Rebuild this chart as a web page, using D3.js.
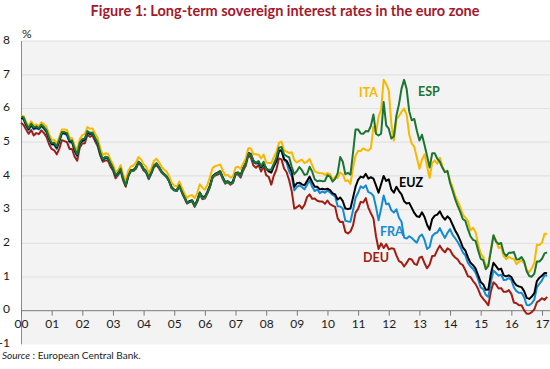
<!DOCTYPE html>
<html>
<head>
<meta charset="utf-8">
<script src="https://cdn.jsdelivr.net/npm/d3@7/dist/d3.min.js"></script>
<style>
  body { margin: 0; background: #fff; }
  svg { display: block; font-family: Lato, "Open Sans", sans-serif; }
</style>
</head>
<body>
<svg id="chart"></svg>
<script>
// monthly 10y yields, Jan 2000 .. Mar 2017
const DEU = [
  5.58, 5.51, 5.38, 5.25, 5.36, 5.20, 5.27, 5.24, 5.35, 5.27, 5.16, 4.94,
  4.80, 4.76, 4.64, 4.81, 5.06, 5.03, 5.00, 4.80, 4.80, 4.57, 4.45, 4.84,
  4.96, 4.97, 5.22, 5.16, 5.20, 5.03, 4.89, 4.61, 4.42, 4.46, 4.46, 4.28,
  4.16, 3.93, 4.02, 4.15, 3.87, 3.68, 3.98, 4.14, 4.15, 4.21, 4.39, 4.31,
  4.16, 4.10, 3.90, 4.06, 4.25, 4.32, 4.23, 4.10, 4.03, 3.96, 3.84, 3.64,
  3.57, 3.55, 3.69, 3.50, 3.34, 3.18, 3.22, 3.24, 3.08, 3.23, 3.46, 3.31,
  3.33, 3.48, 3.67, 3.94, 4.01, 4.04, 4.08, 3.91, 3.77, 3.81, 3.74, 3.79,
  4.04, 4.04, 3.95, 4.16, 4.30, 4.61, 4.55, 4.31, 4.24, 4.33, 4.13, 4.29,
  4.02, 3.97, 3.74, 4.01, 4.19, 4.52, 4.49, 4.22, 4.11, 3.87, 3.55, 3.03,
  3.07, 3.13, 3.03, 3.14, 3.37, 3.45, 3.32, 3.33, 3.26, 3.24, 3.24, 3.17,
  3.27, 3.16, 3.12, 3.08, 2.74, 2.63, 2.64, 2.34, 2.29, 2.35, 2.53, 2.91,
  3.02, 3.23, 3.21, 3.34, 3.06, 2.89, 2.74, 2.21, 1.83, 2.00, 1.86, 1.98,
  1.82, 1.85, 1.84, 1.64, 1.47, 1.43, 1.31, 1.42, 1.54, 1.52, 1.39, 1.36,
  1.57, 1.60, 1.41, 1.26, 1.37, 1.62, 1.63, 1.80, 1.93, 1.81, 1.73, 1.85,
  1.80, 1.66, 1.58, 1.52, 1.40, 1.35, 1.20, 1.02, 1.00, 0.88, 0.79, 0.64,
  0.45, 0.35, 0.26, 0.16, 0.58, 0.84, 0.78, 0.66, 0.67, 0.56, 0.56, 0.61,
  0.50, 0.24, 0.22, 0.16, 0.16, 0.01, -0.09, -0.09, -0.04, 0.04, 0.25, 0.30,
  0.37, 0.32, 0.41
];
const FRA = [
  5.70, 5.68, 5.49, 5.36, 5.50, 5.38, 5.41, 5.38, 5.47, 5.40, 5.29, 5.07,
  4.93, 4.92, 4.80, 5.01, 5.25, 5.25, 5.21, 4.99, 4.99, 4.73, 4.58, 4.93,
  5.02, 5.05, 5.28, 5.23, 5.25, 5.09, 4.94, 4.65, 4.46, 4.53, 4.52, 4.36,
  4.20, 3.99, 4.05, 4.19, 3.90, 3.72, 4.01, 4.16, 4.17, 4.24, 4.40, 4.33,
  4.19, 4.11, 3.92, 4.07, 4.28, 4.35, 4.25, 4.12, 4.04, 3.97, 3.84, 3.65,
  3.57, 3.55, 3.71, 3.53, 3.36, 3.19, 3.23, 3.26, 3.10, 3.25, 3.48, 3.35,
  3.35, 3.51, 3.69, 3.96, 4.03, 4.08, 4.11, 3.93, 3.79, 3.82, 3.76, 3.81,
  4.07, 4.08, 3.99, 4.22, 4.35, 4.66, 4.63, 4.41, 4.36, 4.40, 4.23, 4.35,
  4.22, 4.13, 4.11, 4.28, 4.42, 4.72, 4.75, 4.47, 4.40, 4.13, 3.99, 3.57,
  3.67, 3.72, 3.67, 3.60, 3.74, 3.87, 3.68, 3.55, 3.60, 3.49, 3.54, 3.50,
  3.57, 3.51, 3.44, 3.39, 3.10, 3.09, 3.03, 2.67, 2.65, 2.64, 2.98, 3.35,
  3.50, 3.69, 3.64, 3.72, 3.52, 3.49, 3.41, 3.08, 2.68, 3.03, 3.42, 3.16,
  3.18, 2.98, 2.91, 3.01, 2.76, 2.64, 2.17, 2.14, 2.21, 2.16, 2.08, 2.02,
  2.20, 2.26, 2.10, 1.83, 1.89, 2.21, 2.29, 2.32, 2.45, 2.29, 2.16, 2.31,
  2.42, 2.25, 2.15, 2.04, 1.90, 1.73, 1.64, 1.42, 1.31, 1.24, 1.13, 0.93,
  0.69, 0.64, 0.47, 0.41, 0.85, 1.19, 1.12, 1.04, 1.07, 0.91, 0.92, 0.97,
  0.91, 0.69, 0.58, 0.53, 0.53, 0.40, 0.17, 0.16, 0.22, 0.33, 0.69, 0.80,
  0.90, 1.05, 1.04
];
const EUZ = [
  5.72, 5.71, 5.52, 5.39, 5.52, 5.41, 5.44, 5.40, 5.50, 5.42, 5.32, 5.10,
  4.95, 4.95, 4.84, 5.04, 5.28, 5.27, 5.24, 5.02, 5.02, 4.76, 4.61, 4.96,
  5.05, 5.08, 5.30, 5.25, 5.27, 5.11, 4.96, 4.67, 4.48, 4.55, 4.54, 4.38,
  4.22, 4.01, 4.07, 4.21, 3.92, 3.72, 4.01, 4.17, 4.17, 4.25, 4.42, 4.35,
  4.21, 4.13, 3.94, 4.10, 4.30, 4.37, 4.27, 4.14, 4.06, 3.99, 3.86, 3.66,
  3.59, 3.57, 3.73, 3.55, 3.38, 3.21, 3.25, 3.28, 3.13, 3.27, 3.51, 3.38,
  3.38, 3.53, 3.72, 3.99, 4.06, 4.10, 4.14, 3.96, 3.81, 3.84, 3.78, 3.83,
  4.09, 4.10, 4.02, 4.24, 4.38, 4.68, 4.65, 4.44, 4.38, 4.42, 4.26, 4.37,
  4.22, 4.14, 4.10, 4.30, 4.45, 4.75, 4.76, 4.50, 4.45, 4.30, 4.12, 3.68,
  3.78, 3.80, 3.75, 3.72, 3.85, 3.98, 3.82, 3.68, 3.68, 3.60, 3.62, 3.60,
  3.62, 3.58, 3.48, 3.45, 3.30, 3.36, 3.25, 3.03, 3.02, 3.03, 3.35, 3.68,
  3.88, 3.98, 3.95, 4.06, 3.92, 3.96, 3.92, 3.72, 3.50, 3.75, 4.00, 3.85,
  3.90, 3.60, 3.50, 3.68, 3.55, 3.45, 3.25, 3.18, 3.20, 3.05, 2.90, 2.80,
  2.78, 2.92, 2.78, 2.55, 2.40, 2.72, 2.82, 2.85, 2.95, 2.80, 2.70, 2.80,
  2.72, 2.55, 2.38, 2.25, 2.08, 1.88, 1.78, 1.58, 1.42, 1.35, 1.25, 1.05,
  0.85, 0.78, 0.62, 0.63, 1.10, 1.42, 1.32, 1.22, 1.25, 1.05, 1.02, 1.05,
  1.00, 0.85, 0.75, 0.72, 0.70, 0.58, 0.38, 0.35, 0.42, 0.52, 0.88, 0.98,
  1.04, 1.12, 1.11
];
const ITA = [
  5.77, 5.78, 5.60, 5.48, 5.62, 5.50, 5.53, 5.48, 5.59, 5.53, 5.45, 5.24,
  5.08, 5.07, 4.96, 5.15, 5.38, 5.38, 5.36, 5.14, 5.12, 4.90, 4.76, 5.09,
  5.21, 5.24, 5.45, 5.40, 5.41, 5.26, 5.13, 4.83, 4.62, 4.67, 4.66, 4.49,
  4.34, 4.13, 4.17, 4.32, 4.03, 3.84, 4.15, 4.28, 4.31, 4.39, 4.56, 4.49,
  4.35, 4.27, 4.09, 4.23, 4.44, 4.51, 4.41, 4.27, 4.19, 4.13, 3.99, 3.80,
  3.71, 3.68, 3.83, 3.65, 3.48, 3.35, 3.41, 3.43, 3.34, 3.49, 3.75, 3.65,
  3.59, 3.74, 3.97, 4.23, 4.29, 4.31, 4.34, 4.16, 4.01, 4.03, 3.95, 3.99,
  4.25, 4.27, 4.21, 4.37, 4.51, 4.82, 4.82, 4.64, 4.64, 4.63, 4.52, 4.63,
  4.40, 4.38, 4.38, 4.56, 4.70, 4.98, 5.02, 4.76, 4.72, 4.68, 4.70, 4.47,
  4.40, 4.45, 4.48, 4.38, 4.42, 4.50, 4.32, 4.14, 4.10, 4.08, 4.08, 4.03,
  4.08, 4.05, 3.90, 3.96, 3.94, 4.10, 4.05, 3.85, 3.87, 3.76, 4.24, 4.60,
  4.74, 4.74, 4.82, 4.77, 4.75, 4.82, 5.46, 5.27, 5.75, 5.97, 6.85, 6.72,
  6.54, 5.55, 5.05, 5.68, 5.78, 5.90, 6.00, 5.82, 5.23, 4.96, 4.86, 4.54,
  4.21, 4.48, 4.64, 4.28, 3.94, 4.38, 4.46, 4.36, 4.54, 4.29, 4.12, 4.10,
  3.86, 3.66, 3.41, 3.25, 3.07, 2.85, 2.76, 2.66, 2.38, 2.46, 2.33, 1.97,
  1.70, 1.59, 1.32, 1.38, 1.83, 2.22, 2.09, 1.86, 1.89, 1.62, 1.53, 1.60,
  1.55, 1.54, 1.38, 1.45, 1.49, 1.41, 1.21, 1.14, 1.26, 1.42, 1.96, 1.95,
  2.02, 2.28, 2.28
];
const ESP = [
  5.75, 5.74, 5.55, 5.42, 5.55, 5.44, 5.47, 5.42, 5.52, 5.45, 5.35, 5.13,
  4.98, 4.98, 4.88, 5.08, 5.30, 5.30, 5.27, 5.06, 5.05, 4.80, 4.64, 4.98,
  5.09, 5.11, 5.33, 5.28, 5.29, 5.13, 4.99, 4.70, 4.50, 4.57, 4.55, 4.39,
  4.24, 4.03, 4.09, 4.22, 3.93, 3.72, 4.01, 4.16, 4.15, 4.24, 4.41, 4.34,
  4.22, 4.13, 3.94, 4.10, 4.30, 4.37, 4.27, 4.13, 4.06, 3.98, 3.84, 3.64,
  3.58, 3.56, 3.72, 3.53, 3.37, 3.21, 3.23, 3.26, 3.11, 3.26, 3.50, 3.36,
  3.37, 3.51, 3.69, 3.97, 4.04, 4.09, 4.12, 3.94, 3.79, 3.83, 3.76, 3.81,
  4.08, 4.09, 4.00, 4.22, 4.37, 4.66, 4.63, 4.46, 4.38, 4.44, 4.29, 4.42,
  4.21, 4.18, 4.19, 4.36, 4.54, 4.84, 4.86, 4.64, 4.59, 4.55, 4.27, 4.05,
  4.14, 4.26, 4.17, 4.03, 4.05, 4.27, 4.13, 3.90, 3.84, 3.86, 3.84, 3.85,
  4.02, 3.98, 3.83, 3.91, 4.08, 4.56, 4.42, 4.05, 4.09, 4.04, 4.68, 5.38,
  5.38, 5.26, 5.25, 5.33, 5.32, 5.48, 5.82, 5.25, 5.20, 5.25, 6.19, 5.50,
  5.40, 5.11, 5.17, 5.79, 6.13, 6.59, 6.85, 6.58, 5.92, 5.65, 5.69, 5.34,
  5.05, 5.22, 4.92, 4.59, 4.25, 4.67, 4.67, 4.51, 4.42, 4.24, 4.11, 4.15,
  3.79, 3.56, 3.31, 3.11, 2.93, 2.72, 2.66, 2.42, 2.21, 2.10, 2.07, 1.79,
  1.54, 1.50, 1.23, 1.33, 1.78, 2.24, 2.05, 1.98, 2.01, 1.72, 1.62, 1.72,
  1.72, 1.74, 1.52, 1.53, 1.59, 1.47, 1.17, 1.03, 1.01, 1.10, 1.46, 1.46,
  1.54, 1.70, 1.73
];

const years = d3.range(2000, 2018);
const yTicks = [-1, 0, 1, 2, 3, 4, 5, 6, 7, 8];

// drawing order + label placement
const series = [
  { name: 'DEU', values: DEU, color: '#a11d12', lx: 363, ly: 262 },
  { name: 'FRA', values: FRA, color: '#148ad3', lx: 380, ly: 236 },
  { name: 'EUZ', values: EUZ, color: '#000000', lx: 399, ly: 187 },
  { name: 'ITA', values: ITA, color: '#f7b900', lx: 359, ly: 97 },
  { name: 'ESP', values: ESP, color: '#1b7430', lx: 418, ly: 96 }
];

const width = 550, height = 369;
const marginLeft = 21, plotRight = 550;

const svg = d3.select('#chart')
  .attr('width', width)
  .attr('height', height)
  .attr('viewBox', [0, 0, width, height]);

const x = d3.scaleLinear().domain([2000, 2017]).range([marginLeft, 542]);
const y = d3.scaleLinear().domain([-1, 8]).range([344.4, 41.1]);

// title
svg.append('text')
  .attr('x', 285).attr('y', 16)
  .attr('text-anchor', 'middle')
  .style('font-size', '14.5px')
  .style('font-weight', 'bold')
  .style('fill', '#a3192c')
  .text('Figure 1: Long-term sovereign interest rates in the euro zone');

// plot background
svg.append('rect')
  .attr('x', marginLeft).attr('y', y(8))
  .attr('width', plotRight - marginLeft).attr('height', y(-1) - y(8))
  .style('fill', '#f3f3f3');

// gridlines
svg.append('g').selectAll('line')
  .data(yTicks.filter(d => d !== 0 && d !== -1))
  .join('line')
  .attr('x1', marginLeft).attr('x2', plotRight)
  .attr('y1', d => y(d)).attr('y2', d => y(d))
  .style('stroke', '#e2e2e2')
  .style('stroke-width', 1.2);

// y labels
svg.append('g').selectAll('text')
  .data(yTicks)
  .join('text')
  .attr('x', 10).attr('y', d => y(d) - 1.5)
  .attr('dy', '0.35em')
  .attr('text-anchor', 'end')
  .style('font-size', '12px')
  .style('fill', '#1a1a1a')
  .text(d => d);

svg.append('text')
  .attr('x', 22).attr('y', 38)
  .style('font-size', '12px')
  .style('fill', '#1a1a1a')
  .text('%');

// left axis line
svg.append('line')
  .attr('x1', marginLeft + 0.5).attr('x2', marginLeft + 0.5)
  .attr('y1', y(8)).attr('y2', y(-1))
  .style('stroke', '#8a8a8a')
  .style('stroke-width', 1);

// x axis at zero
const xAxis = svg.append('g')
  .attr('transform', `translate(0,${y(0)})`)
  .call(d3.axisBottom(x).tickValues(years).tickSize(5).tickPadding(4)
    .tickFormat(d => String(d % 100).padStart(2, '0')));
xAxis.select('.domain').remove();
xAxis.selectAll('.tick line').style('stroke', '#7a7a7a');
xAxis.selectAll('.tick text')
  .style('font-size', '12px')
  .style('font-family', 'Lato, sans-serif')
  .style('fill', '#1a1a1a');
svg.append('line')
  .attr('x1', marginLeft).attr('x2', plotRight)
  .attr('y1', y(0)).attr('y2', y(0))
  .style('stroke', '#7a7a7a')
  .style('stroke-width', 1);

// lines
const line = d3.line()
  .x((d, i) => x(2000 + i / 12))
  .y(d => y(d));

svg.append('g').selectAll('path')
  .data(series)
  .join('path')
  .attr('d', d => line(d.values))
  .style('fill', 'none')
  .style('stroke', d => d.color)
  .style('stroke-width', 2)
  .style('stroke-linejoin', 'round');

// series labels
svg.append('g').selectAll('text')
  .data(series)
  .join('text')
  .attr('x', d => d.lx).attr('y', d => d.ly)
  .style('font-size', '12.5px')
  .style('font-weight', 'bold')
  .style('fill', d => d.color)
  .text(d => d.name);

// source
const src = svg.append('text')
  .attr('x', 2).attr('y', 359)
  .style('font-size', '10px')
  .style('fill', '#1a1a1a');
src.append('tspan').style('font-style', 'italic').text('Source');
src.append('tspan').text(' : European Central Bank.');
</script>
</body>
</html>
